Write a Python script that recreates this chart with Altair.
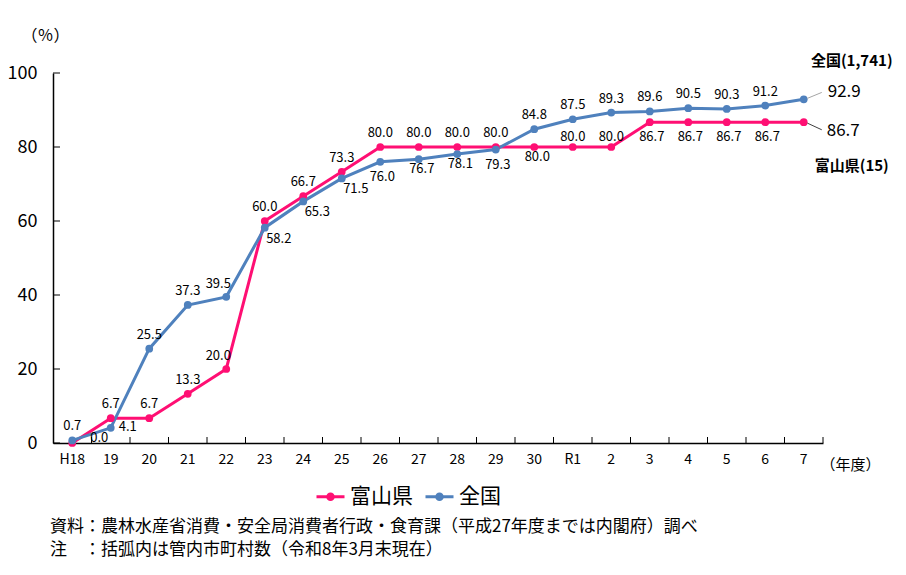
import pandas as pd
import altair as alt

years = ["H18", "19", "20", "21", "22", "23", "24", "25", "26", "27",
         "28", "29", "30", "R1", "2", "3", "4", "5", "6", "7"]
toyama = [0.0, 6.7, 6.7, 13.3, 20.0, 60.0, 66.7, 73.3, 80.0, 80.0,
          80.0, 80.0, 80.0, 80.0, 80.0, 86.7, 86.7, 86.7, 86.7, 86.7]
zenkoku = [0.7, 4.1, 25.5, 37.3, 39.5, 58.2, 65.3, 71.5, 76.0, 76.7,
           78.1, 79.3, 84.8, 87.5, 89.3, 89.6, 90.5, 90.3, 91.2, 92.9]
# where each value label sits relative to its point
toyama_pos = ["r2", "a", "a", "a", "al", "a", "a", "a", "a", "a",
              "a", "a", "bs", "as", "as", "b", "b", "b", "b", "end_b"]
zenkoku_pos = ["a", "r", "a", "a", "al", "br", "br", "br", "b", "bs",
               "bs", "b", "a", "a", "a", "a", "a", "a", "a", "end_a"]
yticks = [0, 20, 40, 60, 80, 100]

series = ["富山県", "全国"]
colors = ["#FF0F73", "#4F81BD"]
FONT = "Noto Sans CJK JP"

df = pd.concat([
    pd.DataFrame({"year": years, "series": "富山県", "value": toyama, "pos": toyama_pos}),
    pd.DataFrame({"year": years, "series": "全国", "value": zenkoku, "pos": zenkoku_pos}),
])
df["label"] = df["value"].map(lambda v: f"{v:.1f}")

W, H = 770, 370

x = alt.X("year:N", sort=years, scale=alt.Scale(paddingInner=0, paddingOuter=0),
          axis=alt.Axis(title="（年度）", titleX=W + 27, titleY=21, titleAngle=0,
                        titleFontSize=15, titleFontWeight="normal", titleFont=FONT,
                        titleBaseline="middle", titleAlign="center",
                        labelAngle=0, labelFontSize=14, labelFont=FONT, labelColor="black",
                        labelPadding=9, ticks=False, domainColor="black", domainWidth=1.5))
y = alt.Y("value:Q", scale=alt.Scale(domain=[0, 100], nice=False),
          axis=alt.Axis(values=yticks, title="（％）", titleAngle=0, titleX=-8, titleY=-38,
                        titleFontSize=16, titleFontWeight="normal", titleFont=FONT,
                        titleAlign="center", titleBaseline="middle",
                        labelFontSize=18, labelFont=FONT, labelColor="black",
                        labelPadding=16, ticks=False, grid=False,
                        domainColor="black", domainWidth=1.5))
color = alt.Color("series:N", scale=alt.Scale(domain=series, range=colors),
                  legend=alt.Legend(title=None, orient="none", legendX=262, legendY=408,
                                    direction="horizontal", labelFontSize=21, labelFont=FONT,
                                    labelColor="black", columnPadding=6, labelOffset=4,
                                    symbolType="M-1,0L1,0M-0.2,0a0.2,0.2 0 1,0 0.4,0a0.2,0.2 0 1,0 -0.4,0M-0.08,0a0.08,0.08 0 1,0 0.16,0a0.08,0.08 0 1,0 -0.16,0",
                                    symbolSize=784, symbolStrokeWidth=3))

lines = alt.Chart(df).mark_line(strokeWidth=3, point=alt.OverlayMarkDef(filled=True, size=60)).encode(
    x=x, y=y, color=color)

offsets = {
    "a": dict(dx=0, dy=-14, align="center"),
    "as": dict(dx=0, dy=-10, align="center"),
    "al": dict(dx=-8, dy=-13, align="center"),
    "b": dict(dx=2, dy=15, align="center"),
    "bs": dict(dx=3, dy=10, align="center"),
    "br": dict(dx=14, dy=11, align="center"),
    "r": dict(dx=8, dy=-1, align="left"),
    "r2": dict(dx=18, dy=-5, align="left"),
}
label_layers = []
for code, o in offsets.items():
    label_layers.append(
        alt.Chart(df).transform_filter(alt.datum.pos == code)
        .mark_text(font=FONT, fontSize=13, color="black", baseline="middle", **o)
        .encode(x=alt.X("year:N", sort=years), y="value:Q", text="label:N"))

# last points: larger labels with a leader line
end_a = alt.Chart(df).transform_filter(alt.datum.pos == "end_a")
end_b = alt.Chart(df).transform_filter(alt.datum.pos == "end_b")
end_layers = [
    end_a.mark_text(font=FONT, fontSize=17, color="black", align="left", baseline="middle", dx=24, dy=-7)
    .encode(x=alt.X("year:N", sort=years), y="value:Q", text="label:N"),
    end_b.mark_text(font=FONT, fontSize=17, color="black", align="left", baseline="middle", dx=23, dy=9)
    .encode(x=alt.X("year:N", sort=years), y="value:Q", text="label:N"),
    end_a.mark_point(shape="M0.2,-0.05L1,-0.38", size=1296, color="#A6A6A6", strokeWidth=1, opacity=1)
    .encode(x=alt.X("year:N", sort=years), y="value:Q"),
    end_b.mark_point(shape="M0.2,0.05L1,0.42", size=1296, color="#404040", strokeWidth=1, opacity=1)
    .encode(x=alt.X("year:N", sort=years), y="value:Q"),
    end_a.mark_text(font=FONT, fontSize=15, fontWeight="bold", color="black", baseline="middle", dx=48, dy=-38)
    .encode(x=alt.X("year:N", sort=years), y="value:Q", text=alt.value("全国(1,741)")),
    end_b.mark_text(font=FONT, fontSize=15, fontWeight="bold", color="black", baseline="middle", dx=48, dy=44)
    .encode(x=alt.X("year:N", sort=years), y="value:Q", text=alt.value("富山県(15)")),
]

# inward tick marks
ytick_df = pd.DataFrame({"v": yticks})
ytick_rules = alt.Chart(ytick_df).mark_rule(color="black", strokeWidth=1).encode(
    y=alt.Y("v:Q"), x=alt.value(0), x2=alt.value(7))
xtick_rules = alt.Chart(pd.DataFrame({"year": years})).mark_rule(color="black", strokeWidth=1).encode(
    x=alt.X("year:N", sort=years, bandPosition=1), y=alt.value(H - 6), y2=alt.value(H))

chart = alt.layer(lines, *label_layers, *end_layers, ytick_rules, xtick_rules).properties(
    width=W, height=H,
    autosize=alt.AutoSizeParams(type="none"),
    padding={"left": 45, "top": 65, "right": 75, "bottom": 124},
    title=alt.Title(
        text=["資料：農林水産省消費・安全局消費者行政・食育課（平成27年度までは内閣府）調べ",
              "\u200b注　：括弧内は管内市町村数（令和8年3月末現在）"],
        orient="bottom", anchor="start", frame="group", offset=12, dx=-3,
        font=FONT, fontSize=17, fontWeight="normal", color="black", lineHeight=23),
).configure_view(stroke=None)

chart.save("out.html", embed_options={"renderer": "svg", "actions": False})
